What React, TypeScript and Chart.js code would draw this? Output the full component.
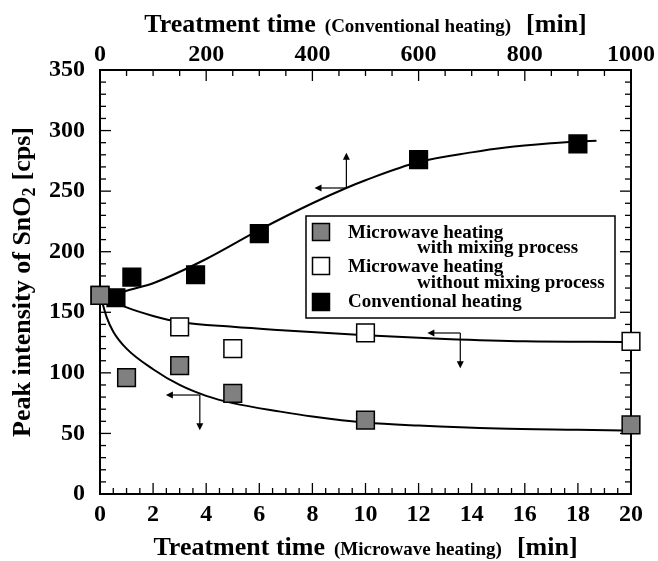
import React, { useEffect, useRef } from 'react';
import { Chart, registerables } from 'chart.js';
Chart.register(...registerables);

// ---- axis ranges / ticks ----
const MW_MAX = 20;          // bottom axis, min (microwave)
const MW_MAJOR = 2;
const MW_MINOR = 0.5;
const CONV_MAX = 1000;      // top axis, min (conventional)
const CONV_MAJOR = 200;
const CONV_MINOR = 50;
const Y_MAX = 350;
const Y_MAJOR = 50;
const Y_MINOR = 10;

// ---- measured points ----
const mixTime = [0, 1, 3, 5, 10, 20];
const mixPeak = [164, 96, 106, 83, 61, 57];
const noMixTime = [0, 3, 5, 10, 20];
const noMixPeak = [164, 138, 120, 133, 126];
const convTime = [30, 60, 180, 300, 600, 900];
const convPeak = [162, 179, 181, 215, 276, 289];

// ---- fitted curves ----
const mixFitTime = [0, 0.25, 0.5, 1, 2, 3, 4, 5, 6.8, 8, 10, 12, 15, 18, 19.7];
const mixFitPeak = [165, 146, 134, 120, 103, 90, 81, 75, 68, 64, 59, 56.5, 54, 53, 52.5];
const noMixFitTime = [0, 0.5, 1, 2, 3, 5, 7, 10, 13, 16, 19.7];
const noMixFitPeak = [164, 159, 154, 147, 142, 138, 135, 131, 128, 126, 125.5];
const convFitTime = [30, 45, 100, 200, 300, 400, 466, 500, 600, 700, 764, 850, 900, 935];
const convFitPeak = [164, 167, 174, 194, 218, 240, 253, 259, 274, 282, 286, 289.5, 291, 291.5];

// ---- legend / annotation text ----
const legendItems = [
  { fill: '#808080', lines: ['Microwave heating', 'with mixing process'] },
  { fill: '#ffffff', lines: ['Microwave heating', 'without mixing process'] },
  { fill: '#000000', lines: ['Conventional heating'] },
];
// arrows: corner in data units, arm lengths in data units
const arrows = [
  { xAxis: 'x2', x: 464, y: 252.6, dx: -60, dy: 29 },
  { xAxis: 'x', x: 3.76, y: 81.7, dx: -1.28, dy: -29 },
  { xAxis: 'x', x: 13.57, y: 132.9, dx: -1.24, dy: -29 },
];

const SERIF = "'Liberation Serif', 'Times New Roman', serif";
const pts = (xs: number[], ys: number[]) => xs.map((x, i) => ({ x, y: ys[i] }));

const isMajor = (v: number, step: number) => Math.abs(v / step - Math.round(v / step)) < 1e-6;

const overlay = {
  id: 'overlay',
  beforeDatasetsDraw(chart: any) {
    const { ctx, chartArea: a, scales } = chart;
    ctx.save();
    ctx.strokeStyle = '#000';
    ctx.lineWidth = 1.3;
    const line = (x1: number, y1: number, x2: number, y2: number) => {
      ctx.beginPath(); ctx.moveTo(x1, y1); ctx.lineTo(x2, y2); ctx.stroke();
    };
    for (let i = 0; i * MW_MINOR <= MW_MAX + 1e-9; i++) {
      const v = i * MW_MINOR;
      const px = scales.x.getPixelForValue(v);
      const L = isMajor(v, MW_MAJOR) ? 11 : 6;
      line(px, a.bottom, px, a.bottom - L);
    }
    for (let i = 0; i * CONV_MINOR <= CONV_MAX + 1e-9; i++) {
      const v = i * CONV_MINOR;
      const px = scales.x2.getPixelForValue(v);
      const L = isMajor(v, CONV_MAJOR) ? 11 : 6;
      line(px, a.top, px, a.top + L);
    }
    for (let i = 0; i * Y_MINOR <= Y_MAX + 1e-9; i++) {
      const v = i * Y_MINOR;
      const py = scales.y.getPixelForValue(v);
      const L = isMajor(v, Y_MAJOR) ? 11 : 6;
      line(a.left, py, a.left + L, py);
      line(a.right, py, a.right - L, py);
    }
    ctx.lineWidth = 2;
    ctx.strokeRect(a.left, a.top, a.right - a.left, a.bottom - a.top);

    // arrows
    ctx.lineWidth = 1.2;
    ctx.fillStyle = '#000';
    const head = (x: number, y: number, dirx: number, diry: number) => {
      const len = 7, hw = 3.5;
      const bx = x - dirx * len, by = y - diry * len;
      ctx.beginPath();
      ctx.moveTo(x, y);
      ctx.lineTo(bx - diry * hw, by + dirx * hw);
      ctx.lineTo(bx + diry * hw, by - dirx * hw);
      ctx.closePath();
      ctx.fill();
    };
    arrows.forEach((ar) => {
      const xs = scales[ar.xAxis];
      const cx = xs.getPixelForValue(ar.x);
      const cy = scales.y.getPixelForValue(ar.y);
      const hx = xs.getPixelForValue(ar.x + ar.dx);
      const vy = scales.y.getPixelForValue(ar.y + ar.dy);
      line(cx, cy, hx + 3, cy);
      head(hx, cy, -1, 0);
      const d = vy < cy ? -1 : 1;
      line(cx, cy, cx, vy - d * 3);
      head(cx, vy, 0, d);
    });
    ctx.restore();
  },
  afterDatasetsDraw(chart: any) {
    const { ctx, chartArea: a } = chart;
    ctx.save();
    // legend box
    const bx = a.left + 206, by = a.top + 146, bw = 309, bh = 102;
    ctx.fillStyle = '#fff';
    ctx.fillRect(bx, by, bw, bh);
    ctx.strokeStyle = '#000';
    ctx.lineWidth = 1.5;
    ctx.strokeRect(bx, by, bw, bh);
    ctx.font = `bold 19px ${SERIF}`;
    ctx.textBaseline = 'middle';
    ctx.textAlign = 'left';
    const markerCY = [16, 50, 86];
    const lineY = [[17, 32], [51, 67], [86]];
    legendItems.forEach((it, i) => {
      const s = 17;
      ctx.fillStyle = it.fill;
      ctx.fillRect(bx + 15 - s / 2, by + markerCY[i] - s / 2, s, s);
      ctx.lineWidth = 1.5;
      ctx.strokeRect(bx + 15 - s / 2, by + markerCY[i] - s / 2, s, s);
      ctx.fillStyle = '#000';
      it.lines.forEach((t, j) => {
        ctx.fillText(t, bx + (j === 0 ? 42 : 111), by + lineY[i][j]);
      });
    });
    ctx.restore();
  },
  afterDraw(chart: any) {
    const { ctx, chartArea: a } = chart;
    ctx.save();
    ctx.fillStyle = '#000';
    ctx.textBaseline = 'alphabetic';
    ctx.textAlign = 'left';
    const drawPieces = (pieces: any[], cx: number, baseY: number) => {
      let total = 0;
      pieces.forEach((p) => {
        if (p.gap) { total += p.gap; return; }
        ctx.font = `bold ${p.size}px ${SERIF}`;
        p.w = ctx.measureText(p.t).width;
        total += p.w;
      });
      let x = cx - total / 2;
      pieces.forEach((p) => {
        if (p.gap) { x += p.gap; return; }
        ctx.font = `bold ${p.size}px ${SERIF}`;
        ctx.fillText(p.t, x, baseY + (p.dy || 0));
        x += p.w;
      });
    };
    const cx = (a.left + a.right) / 2;
    drawPieces([{ t: 'Treatment time', size: 26 }, { gap: 9 }, { t: '(Conventional heating)', size: 19 }, { gap: 15 }, { t: '[min]', size: 26 }], cx, 32);
    drawPieces([{ t: 'Treatment time', size: 26 }, { gap: 9 }, { t: '(Microwave heating)', size: 19 }, { gap: 15 }, { t: '[min]', size: 26 }], cx, 555);

    // y title
    ctx.translate(30, (a.top + a.bottom) / 2);
    ctx.rotate(-Math.PI / 2);
    drawPieces([{ t: 'Peak intensity of SnO', size: 26 }, { t: '2', size: 18, dy: 5 }, { gap: 7 }, { t: '[cps]', size: 26 }], 0, 0);
    ctx.restore();
  },
};

export default function App() {
  const ref = useRef<HTMLCanvasElement>(null);
  useEffect(() => {
    const font = { family: SERIF, size: 24, weight: 'bold' as const, lineHeight: 1 };
    const pointDs = (label: string, data: any[], fill: string, xAxisID = 'x') => ({
      label, data, xAxisID, yAxisID: 'y',
      showLine: false,
      pointStyle: 'rect',
      pointRadius: 12.5,
      pointHoverRadius: 12.5,
      pointBackgroundColor: fill,
      pointBorderColor: '#000',
      pointBorderWidth: 1.5,
      clip: false,
    });
    const curveDs = (label: string, data: any[], xAxisID = 'x') => ({
      label, data, xAxisID, yAxisID: 'y',
      showLine: true,
      borderColor: '#000',
      borderWidth: 2,
      pointRadius: 0,
      pointHoverRadius: 0,
      cubicInterpolationMode: 'monotone' as const,
      fill: false,
      clip: false,
    });
    const chart = new Chart(ref.current!, {
      type: 'scatter',
      data: {
        datasets: [
          pointDs('Microwave heating with mixing process', pts(mixTime, mixPeak), '#808080'),
          pointDs('Conventional heating', pts(convTime, convPeak), '#000000', 'x2'),
          pointDs('Microwave heating without mixing process', pts(noMixTime, noMixPeak), '#ffffff'),
          curveDs('fit mix', pts(mixFitTime, mixFitPeak)),
          curveDs('fit no mix', pts(noMixFitTime, noMixFitPeak)),
          curveDs('fit conv', pts(convFitTime, convFitPeak), 'x2'),
        ] as any,
      },
      options: {
        responsive: false,
        devicePixelRatio: 1,
        animation: false,
        events: [],
        layout: { padding: { left: 0, right: 26, top: 0, bottom: 0 } },
        plugins: { legend: { display: false }, tooltip: { enabled: false } },
        scales: {
          x: {
            type: 'linear', position: 'bottom', min: 0, max: MW_MAX,
            ticks: { stepSize: MW_MAJOR, font, color: '#000', padding: 9, maxRotation: 0, autoSkip: false, callback: (v: any) => String(v) },
            grid: { display: false, drawTicks: false },
            border: { display: false },
            afterFit: (s: any) => { s.height = 67; },
          },
          x2: {
            type: 'linear', position: 'top', min: 0, max: CONV_MAX,
            ticks: { stepSize: CONV_MAJOR, font, color: '#000', padding: 3, maxRotation: 0, autoSkip: false, callback: (v: any) => String(v) },
            grid: { display: false, drawTicks: false },
            border: { display: false },
            afterFit: (s: any) => { s.height = 70; },
          },
          y: {
            type: 'linear', position: 'left', min: 0, max: Y_MAX,
            ticks: { stepSize: Y_MAJOR, font, color: '#000', padding: 15, autoSkip: false, callback: (v: any) => String(v) },
            grid: { display: false, drawTicks: false },
            border: { display: false },
            afterFit: (s: any) => { s.width = 100; },
          },
        },
      } as any,
      plugins: [overlay],
    });
    return () => chart.destroy();
  }, []);
  return (
    <div style={{ position: 'fixed', left: 0, top: 0, width: 658, height: 561, background: '#fff' }}>
      <canvas ref={ref} width={658} height={561} style={{ display: 'block' }} />
    </div>
  );
}
